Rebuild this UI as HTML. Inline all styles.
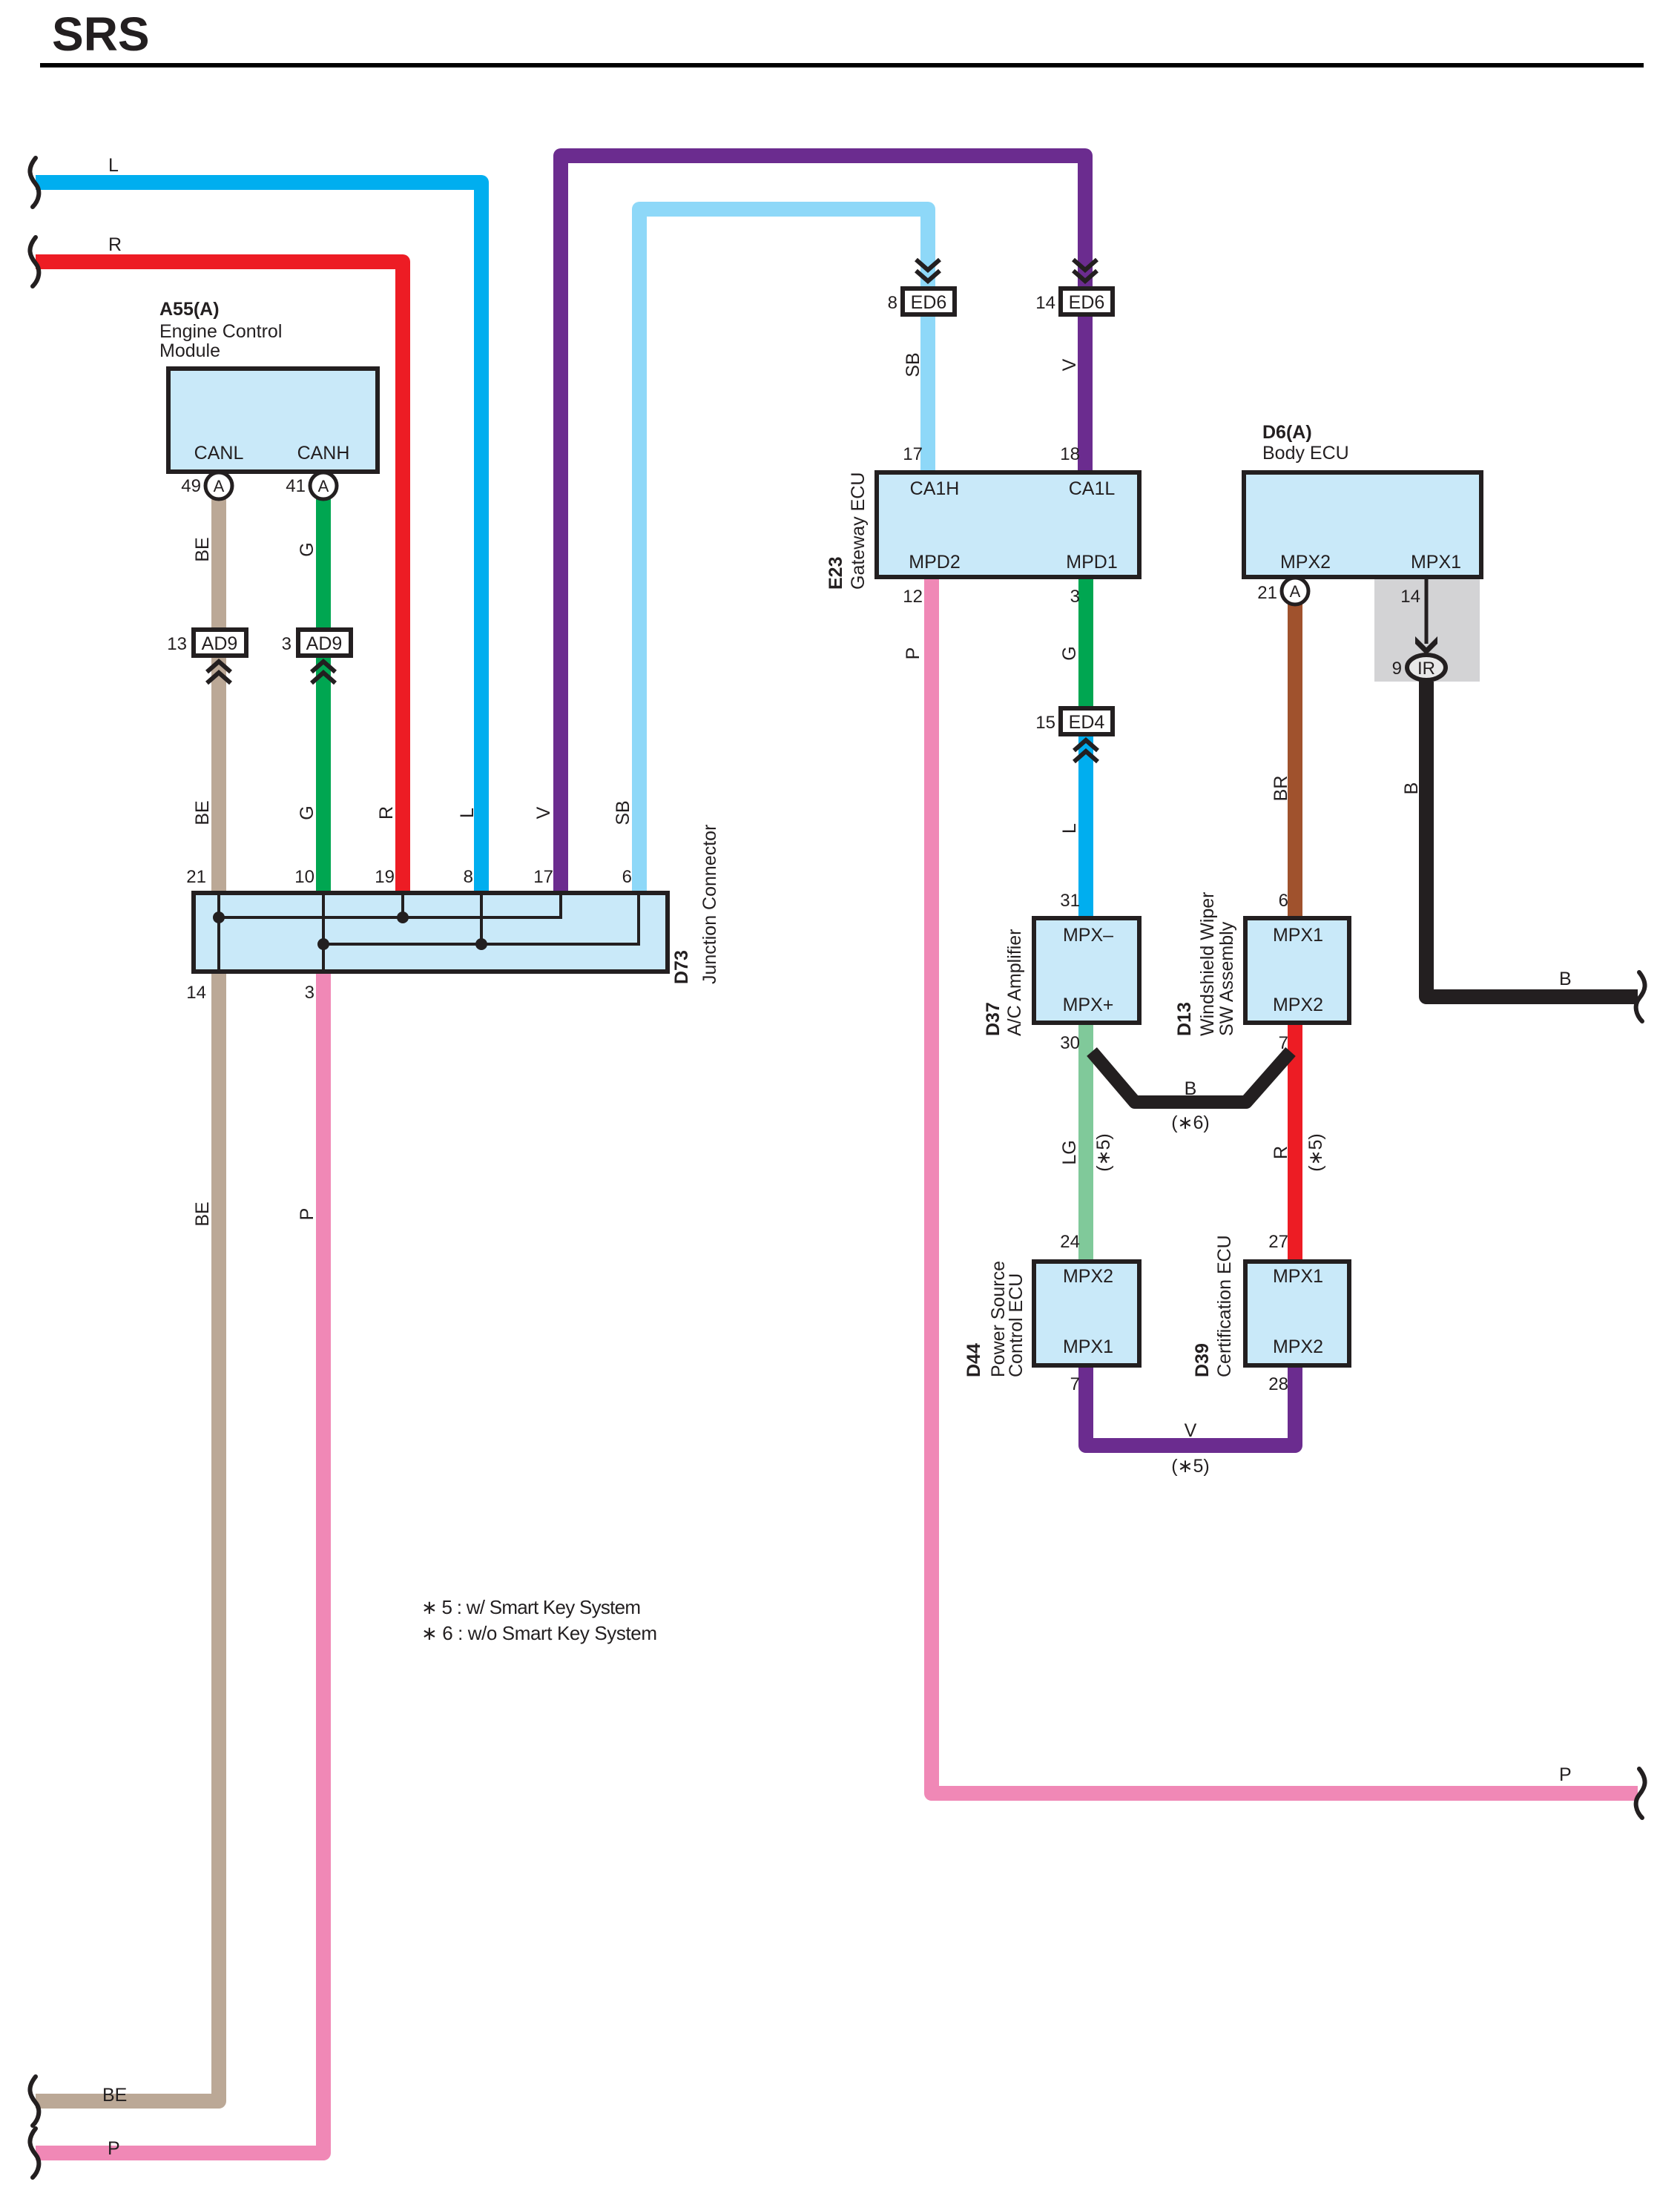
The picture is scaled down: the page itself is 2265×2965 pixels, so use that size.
<!DOCTYPE html>
<html><head><meta charset="utf-8"><style>
html,body{margin:0;padding:0;background:#fff;}
svg{display:block;}
text{font-family:"Liberation Sans",Arial,sans-serif;fill:#231f20;}
</style></head><body>
<svg width="2265" height="2965" viewBox="0 0 2265 2965" xmlns="http://www.w3.org/2000/svg">
<text x="70" y="68" font-size="64" font-weight="bold">SRS</text>
<rect x="54" y="85" width="2162" height="6" fill="#000"/>

<g fill="none" stroke-linejoin="round" stroke-linecap="butt" stroke-width="20">
<path d="M48,246 H649 V1201" stroke="#00AEEF"/>
<path d="M48,353 H543 V1201" stroke="#ED1C24"/>
<path d="M756,1201 V210 H1463 V634" stroke="#6B2C8F"/>
<path d="M862,1201 V282 H1251 V634" stroke="#8ED8F8"/>
<path d="M295,654 V1201" stroke="#BBA896"/>
<path d="M295,1310 V2833 H48" stroke="#BBA896"/>
<path d="M436,654 V1201" stroke="#00A651"/>
<path d="M436,1310 V2903 H48" stroke="#F088B6"/>
<path d="M1256,778 V2418 H2208" stroke="#F088B6"/>
<path d="M1464,778 V990" stroke="#00A651"/>
<path d="M1464,990 V1235" stroke="#00AEEF"/>
<path d="M1464,1379 V1698" stroke="#80C99A"/>
<path d="M1746,795 V1235" stroke="#A0522D"/>
<path d="M1746,1379 V1698" stroke="#ED1C24"/>
<path d="M1464,1841 V1949 H1746 V1841" stroke="#6B2C8F"/>
<path d="M1472,1418 L1530,1486 H1680 L1740,1418" stroke="#231F20" stroke-width="18"/>
<path d="M1923,919 V1344 H2208" stroke="#231F20"/>
</g>

<g fill="none" stroke="#231F20" stroke-width="6" stroke-linecap="round">
<path d="M48,213 C36,228 40,238 48,248 C56,258 52,271 44,279"/>
<path d="M48,320 C36,335 40,345 48,355 C56,365 52,378 44,386"/>
<path d="M48,2800 C36,2815 40,2825 48,2835 C56,2845 52,2858 44,2866"/>
<path d="M48,2870 C36,2885 40,2895 48,2905 C56,2915 52,2928 44,2936"/>
<path d="M2210,2385 C2222,2400 2218,2410 2210,2420 C2202,2430 2206,2443 2214,2451"/>
<path d="M2210,1311 C2222,1326 2218,1336 2210,1346 C2202,1356 2206,1369 2214,1377"/>
</g>

<g fill="#C9E9F9" stroke="#231F20" stroke-width="6">
<rect x="227" y="497" width="282" height="139"/>
<rect x="261" y="1204" width="639" height="106"/>
<rect x="1182" y="637" width="354" height="141"/>
<rect x="1677" y="637" width="320" height="141"/>
<rect x="1394" y="1238" width="142" height="141"/>
<rect x="1679" y="1238" width="140" height="141"/>
<rect x="1394" y="1701" width="142" height="140"/>
<rect x="1679" y="1701" width="140" height="140"/>
</g>

<rect x="1853" y="781" width="142" height="138" fill="#D3D3D5"/>
<line x1="1923" y1="781" x2="1923" y2="868" stroke="#231F20" stroke-width="5"/>
<path d="M1908,858 L1923,873 L1938,858 L1938,868 L1923,883 L1908,868 Z" fill="#231F20"/>
<path d="M1923,919 V1344" stroke="#231F20" stroke-width="20"/>
<ellipse cx="1923" cy="900" rx="26" ry="17" fill="#e8e8e8" stroke="#231F20" stroke-width="6"/>
<text x="1923" y="909" font-size="24" text-anchor="middle">IR</text>

<g fill="none" stroke="#231F20" stroke-width="4">
<path d="M295,1204 V1310"/><path d="M436,1204 V1310"/>
<path d="M543,1204 V1237"/><path d="M756,1204 V1237 H295"/>
<path d="M649,1204 V1273"/><path d="M861,1204 V1273 H436"/>
</g>
<g fill="#231F20">
<circle cx="295" cy="1237" r="8"/><circle cx="543" cy="1237" r="8"/>
<circle cx="436" cy="1273" r="8"/><circle cx="649" cy="1273" r="8"/>
</g>

<g fill="#fff" stroke="#231F20" stroke-width="5">
<circle cx="295" cy="655" r="18"/><circle cx="436" cy="655" r="18"/><circle cx="1746" cy="797" r="18"/>
</g>
<g font-size="22" text-anchor="middle">
<text x="295" y="663">A</text><text x="436" y="663">A</text><text x="1746" y="805">A</text>
</g>

<g fill="#fff" stroke="#231F20" stroke-width="6">
<rect x="261" y="849" width="71" height="35"/>
<rect x="402" y="849" width="71" height="35"/>
<rect x="1217" y="389" width="70" height="35"/>
<rect x="1430" y="389" width="70" height="35"/>
<rect x="1430" y="955" width="70" height="35"/>
</g>
<g font-size="25" text-anchor="middle">
<text x="296" y="876">AD9</text><text x="437" y="876">AD9</text>
<text x="1252" y="416">ED6</text><text x="1465" y="416">ED6</text><text x="1465" y="982">ED4</text>
</g>
<g fill="none" stroke="#231F20" stroke-width="6">
<path d="M279,906 L295,892 L311,906 M279,921 L295,907 L311,921"/>
<path d="M420,906 L436,892 L452,906 M420,921 L436,907 L452,921"/>
<path d="M1448,1012 L1464,998 L1480,1012 M1448,1027 L1464,1013 L1480,1027"/>
<path d="M1235,350 L1251,364 L1267,350 M1235,365 L1251,379 L1267,365"/>
<path d="M1447,350 L1463,364 L1479,350 M1447,365 L1463,379 L1479,365"/>
</g>

<g font-size="25">
<text x="146" y="231">L</text>
<text x="146" y="338">R</text>
<text x="215" y="425" font-weight="bold">A55(A)</text>
<text x="215" y="455">Engine Control</text>
<text x="215" y="481">Module</text>
<text x="1702" y="591" font-weight="bold">D6(A)</text>
<text x="1702" y="619">Body ECU</text>
<text x="138" y="2833">BE</text>
<text x="145" y="2905">P</text>
<text x="2102" y="2401">P</text>
<text x="2102" y="1328">B</text>
<text x="1605" y="1476" text-anchor="middle">B</text>
<text x="1605" y="1522" text-anchor="middle">(∗6)</text>
<text x="1605" y="1937" text-anchor="middle">V</text>
<text x="1605" y="1985" text-anchor="middle">(∗5)</text>
</g>
<g font-size="25" text-anchor="middle">
<text x="295" y="619">CANL</text><text x="436" y="619">CANH</text>
<text x="1260" y="667">CA1H</text><text x="1472" y="667">CA1L</text>
<text x="1260" y="766">MPD2</text><text x="1472" y="766">MPD1</text>
<text x="1760" y="766">MPX2</text><text x="1936" y="766">MPX1</text>
<text x="1467" y="1269">MPX–</text><text x="1467" y="1363">MPX+</text>
<text x="1750" y="1269">MPX1</text><text x="1750" y="1363">MPX2</text>
<text x="1467" y="1729">MPX2</text><text x="1467" y="1824">MPX1</text>
<text x="1750" y="1729">MPX1</text><text x="1750" y="1824">MPX2</text>
</g>
<g font-size="24" text-anchor="end">
<text x="271" y="663">49</text><text x="412" y="663">41</text>
<text x="252" y="876">13</text><text x="393" y="876">3</text>
<text x="278" y="1190">21</text><text x="424" y="1190">10</text><text x="532" y="1190">19</text>
<text x="638" y="1190">8</text><text x="746" y="1190">17</text><text x="852" y="1190">6</text>
<text x="278" y="1346">14</text><text x="424" y="1346">3</text>
<text x="1210" y="416">8</text><text x="1423" y="416">14</text>
<text x="1244" y="620">17</text><text x="1456" y="620">18</text>
<text x="1244" y="812">12</text><text x="1456" y="812">3</text>
<text x="1423" y="982">15</text>
<text x="1456" y="1222">31</text><text x="1456" y="1414">30</text>
<text x="1456" y="1682">24</text><text x="1456" y="1874">7</text>
<text x="1737" y="1222">6</text><text x="1737" y="1414">7</text>
<text x="1737" y="1682">27</text><text x="1737" y="1874">28</text>
<text x="1722" y="807">21</text>
<text x="1915" y="812">14</text><text x="1890" y="909">9</text>
</g>
<g font-size="25" text-anchor="middle">
<text transform="translate(281,741) rotate(-90)">BE</text>
<text transform="translate(422,741) rotate(-90)">G</text>
<text transform="translate(281,1096) rotate(-90)">BE</text>
<text transform="translate(422,1096) rotate(-90)">G</text>
<text transform="translate(529,1096) rotate(-90)">R</text>
<text transform="translate(638,1096) rotate(-90)">L</text>
<text transform="translate(741,1096) rotate(-90)">V</text>
<text transform="translate(848,1096) rotate(-90)">SB</text>
<text transform="translate(281,1637) rotate(-90)">BE</text>
<text transform="translate(422,1637) rotate(-90)">P</text>
<text transform="translate(1239,492) rotate(-90)">SB</text>
<text transform="translate(1450,492) rotate(-90)">V</text>
<text transform="translate(1239,881) rotate(-90)">P</text>
<text transform="translate(1450,881) rotate(-90)">G</text>
<text transform="translate(1450,1117) rotate(-90)">L</text>
<text transform="translate(1450,1554) rotate(-90)">LG</text>
<text transform="translate(1496,1554) rotate(-90)">(∗5)</text>
<text transform="translate(1735,1063) rotate(-90)">BR</text>
<text transform="translate(1735,1554) rotate(-90)">R</text>
<text transform="translate(1782,1554) rotate(-90)">(∗5)</text>
<text transform="translate(1911,1063) rotate(-90)">B</text>
</g>
<g font-size="25">
<text transform="translate(927,1327) rotate(-90)" font-weight="bold">D73</text>
<text transform="translate(965,1327) rotate(-90)">Junction Connector</text>
<text transform="translate(1135,795) rotate(-90)" font-weight="bold">E23</text>
<text transform="translate(1165,795) rotate(-90)">Gateway ECU</text>
<text transform="translate(1347,1397) rotate(-90)" font-weight="bold">D37</text>
<text transform="translate(1376,1397) rotate(-90)">A/C Amplifier</text>
<text transform="translate(1605,1397) rotate(-90)" font-weight="bold">D13</text>
<text transform="translate(1636,1397) rotate(-90)">Windshield Wiper</text>
<text transform="translate(1662,1397) rotate(-90)">SW Assembly</text>
<text transform="translate(1321,1857) rotate(-90)" font-weight="bold">D44</text>
<text transform="translate(1354,1857) rotate(-90)">Power Source</text>
<text transform="translate(1378,1857) rotate(-90)">Control ECU</text>
<text transform="translate(1629,1857) rotate(-90)" font-weight="bold">D39</text>
<text transform="translate(1659,1857) rotate(-90)">Certification ECU</text>
</g>
<g font-size="26">
<text x="568" y="2176" textLength="296">∗ 5 : w/ Smart Key System</text>
<text x="568" y="2211" textLength="318">∗ 6 : w/o Smart Key System</text>
</g>
</svg>
</body></html>
